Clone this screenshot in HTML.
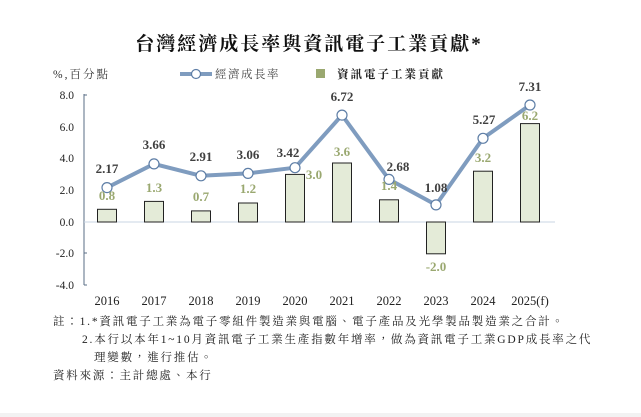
<!DOCTYPE html>
<html><head><meta charset="utf-8"><style>
body{margin:0;background:#fff;}
svg{display:block;font-family:"Liberation Serif","Noto Serif CJK SC",serif;}
.v{font-weight:bold;font-size:13px;fill:#404040;text-anchor:middle}
.b{font-weight:bold;font-size:13px;fill:#9aa870;text-anchor:middle}
.t{font-size:11.5px;fill:#222;text-anchor:end}
.x{font-size:12.5px;fill:#222;text-anchor:middle}
.n{font-size:11.5px;fill:#222;font-family:"Liberation Serif","Noto Serif CJK TC",serif;letter-spacing:1.8px}
</style></head><body>
<svg width="641" height="417" viewBox="0 0 641 417">
<rect width="641" height="417" fill="#fff"/>
<rect y="413" width="641" height="4" fill="#f2f2f2"/>
<text x="309" y="50" text-anchor="middle" font-size="19" font-weight="bold" fill="#111" letter-spacing="2" font-family="Liberation Serif,Noto Serif CJK TC,serif">台灣經濟成長率與資訊電子工業貢獻*</text>
<text x="53" y="78" font-size="11.5" fill="#333" letter-spacing="2">%,百分點</text>
<line x1="180" y1="74" x2="212" y2="74" stroke="#7f9cbf" stroke-width="4"/>
<circle cx="196" cy="74" r="4.5" fill="#fff" stroke="#5e7ea6" stroke-width="1.2"/>
<text x="215" y="78" font-size="11.5" fill="#444" letter-spacing="1.5">經濟成長率</text>
<rect x="316" y="69" width="9" height="9" fill="#9aa870"/>
<text x="337" y="78" font-size="11.5" fill="#222" font-weight="bold" letter-spacing="2">資訊電子工業貢獻</text>
<line x1="84" y1="94" x2="84" y2="285" stroke="#5a6e86" stroke-width="1"/>
<g stroke="#5a6e86"><line x1="84" y1="95" x2="87" y2="95"/><line x1="84" y1="253" x2="87" y2="253"/><line x1="84" y1="285" x2="87" y2="285"/></g>
<g class="t"><text x="74" y="99">8.0</text><text x="74" y="131">6.0</text><text x="74" y="162">4.0</text><text x="74" y="194">2.0</text><text x="74" y="226">0.0</text><text x="74" y="257">-2.0</text><text x="74" y="289">-4.0</text></g>
<line x1="84" y1="222" x2="555" y2="222" stroke="#c8d4e3" stroke-width="1"/>
<g fill="#e4ebd8" stroke="#222" stroke-width="1">
<rect x="97.5" y="209.3" width="19" height="12.7"/>
<rect x="144.5" y="201.4" width="19" height="20.6"/>
<rect x="191.5" y="210.9" width="19" height="11.1"/>
<rect x="238.5" y="203" width="19" height="19"/>
<rect x="285.5" y="174.4" width="19" height="47.6"/>
<rect x="332.5" y="163" width="19" height="59"/>
<rect x="379.5" y="199.8" width="19" height="22.2"/>
<rect x="426.5" y="222" width="19" height="31.8"/>
<rect x="473.5" y="171.2" width="19" height="50.8"/>
<rect x="520.5" y="123.6" width="19" height="98.4"/>
</g>
<polyline fill="none" stroke="#7f9cbf" stroke-width="4" stroke-linejoin="round" points="107,187.6 154,163.9 201,175.8 248,173.4 295,167.7 342,115.1 389,179.4 436,204.9 483,138.3 530,105"/>
<g fill="#fff" stroke="#5e7ea6" stroke-width="1.2">
<circle cx="107" cy="187.6" r="5"/><circle cx="154" cy="163.9" r="5"/><circle cx="201" cy="175.8" r="5"/><circle cx="248" cy="173.4" r="5"/><circle cx="295" cy="167.7" r="5"/><circle cx="342" cy="115.1" r="5"/><circle cx="389" cy="179.4" r="5"/><circle cx="436" cy="204.9" r="5"/><circle cx="483" cy="138.3" r="5"/><circle cx="530" cy="105" r="5"/>
</g>
<g class="v">
<text x="107" y="173">2.17</text><text x="154" y="149">3.66</text><text x="201" y="161">2.91</text><text x="248" y="159">3.06</text><text x="288" y="157">3.42</text><text x="342" y="101">6.72</text><text x="398" y="171">2.68</text><text x="436" y="192">1.08</text><text x="484" y="124">5.27</text><text x="530" y="91">7.31</text>
</g>
<g class="b">
<text x="107" y="200">0.8</text><text x="154" y="192">1.3</text><text x="201" y="201">0.7</text><text x="248" y="193">1.2</text><text x="314" y="179">3.0</text><text x="342" y="156">3.6</text><text x="389" y="190">1.4</text><text x="436" y="271">-2.0</text><text x="483" y="162">3.2</text><text x="530" y="120">6.2</text>
</g>
<g class="x"><text x="107" y="305">2016</text><text x="154" y="305">2017</text><text x="201" y="305">2018</text><text x="248" y="305">2019</text><text x="295" y="305">2020</text><text x="342" y="305">2021</text><text x="389" y="305">2022</text><text x="436" y="305">2023</text><text x="483" y="305">2024</text><text x="530" y="305">2025(f)</text></g>
<text class="n" x="53" y="325">註：1.*資訊電子工業為電子零組件製造業與電腦、電子產品及光學製品製造業之合計。</text>
<text class="n" x="82" y="343">2.本行以本年1~10月資訊電子工業生產指數年增率，做為資訊電子工業GDP成長率之代</text>
<text class="n" x="94" y="361">理變數，進行推估。</text>
<text class="n" x="53" y="379">資料來源：主計總處、本行</text>
</svg>
</body></html>
